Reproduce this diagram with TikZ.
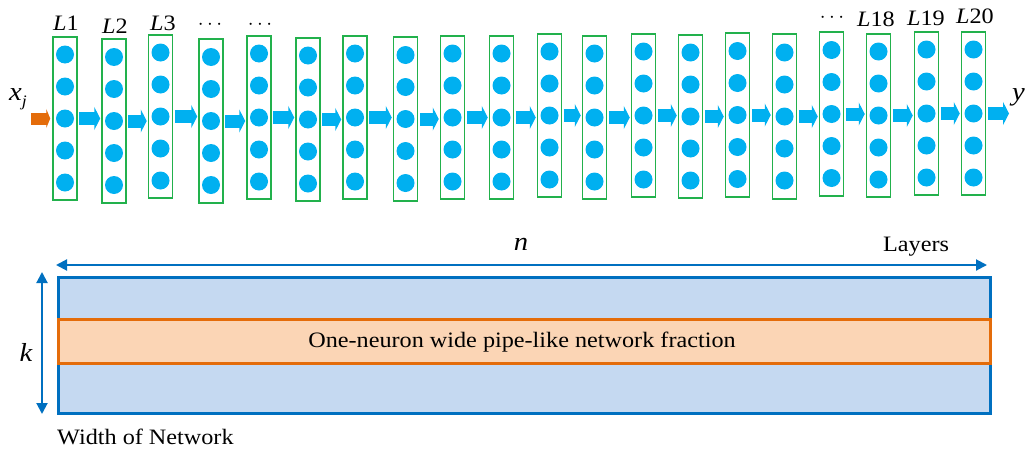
\documentclass[tikz,border=0pt]{standalone}
\usepackage{fontspec}
\setmainfont[FakeStretch=1.1]{Liberation Serif}
\usetikzlibrary{arrows.meta}
\definecolor{lgreen}{HTML}{22B14C}
\definecolor{lcyan}{HTML}{00B0F0}
\definecolor{dblue}{HTML}{0070C0}
\definecolor{lblue}{HTML}{C5D9F1}
\definecolor{orng}{HTML}{E46C0A}
\definecolor{lorng}{HTML}{FBD5B5}
\tikzset{
  layerbox/.style={draw=lgreen, line width=1.5pt, rectangle, minimum width=24pt, inner sep=0pt},
  neuron/.style={circle, fill=lcyan, minimum size=18pt, inner sep=0pt},
  flow/.style={draw=lcyan, line width=13pt, -{Triangle[length=6pt,width=23pt]}},
  inflow/.style={draw=orng, line width=12pt, -{Triangle[length=4pt,width=19pt]}},
  dimarrow/.style={draw=dblue, line width=2pt, {Triangle[length=11pt,width=11pt]}-{Triangle[length=11pt,width=11pt]}},
  lbl/.style={font=\fontsize{22}{22}\selectfont, inner sep=0pt, anchor=base},
  dotlbl/.style={font=\fontsize{20}{20}\selectfont, inner sep=0pt, anchor=base},
  ital/.style={font=\fontsize{26}{26}\selectfont\itshape, inner sep=0pt, anchor=base},
  txt/.style={font=\fontsize{22}{22}\selectfont, inner sep=0pt},
}
\begin{document}
\begin{tikzpicture}[x=1pt,y=-1pt]
\useasboundingbox (0,0) rectangle (1030,450);
% layers
\foreach \i/\cx/\t/\b in {1/65/37/200, 2/114/39/203, 3/160.5/35/198, 4/211/39/203, 5/259/36/199,
  6/308/38/201, 7/355/36/199, 8/405.5/37/201, 9/452.5/36/199, 10/501.5/36/199,
  11/549.5/34/197, 12/594.5/36/199, 13/643.5/34/197, 14/690.5/35/198, 15/737.5/33/197,
  16/784.5/34/199, 17/831.5/32/196, 18/878.5/34/197, 19/926.5/32/195, 20/973.5/32/195}{
  \pgfmathsetmacro{\cy}{(\t+\b)/2}
  \pgfmathsetmacro{\h}{\b-\t}
  \node[layerbox, minimum height=\h pt] (b\i) at (\cx,\cy) {};
  \foreach \k/\dy in {1/-64,2/-32,3/0,4/32,5/64}{
    \node[neuron] (d\i-\k) at (\cx,\cy+\dy) {};
  }
}
% flow arrows
\foreach \i [evaluate=\i as \j using int(\i+1)] in {1,...,19}{
  \draw[flow] ([xshift=1.5pt]b\i.east) -- ([xshift=-1pt]b\i.east -| b\j.west);
}
\coordinate (xin) at (31,118.5);
\draw[inflow] (xin) -- ([xshift=-2pt]b1.west |- xin);
\coordinate (yout) at (1009,113.5);
\draw[flow] ([xshift=1.5pt]b20.east) -- (yout);
% labels
\node[lbl] (l1) at (66,30) {\textit{L}1};
\node[lbl] (l2) at (115,33) {\textit{L}2};
\node[lbl] (l3) at (163,30) {\textit{L}3};
\node[dotlbl] (l4) at (210,29) {$\cdots$};
\node[dotlbl] (l5) at (260,29) {$\cdots$};
\node[dotlbl] (l17) at (832,22) {$\cdots$};
\node[lbl] (l18) at (876,26) {\textit{L}18};
\node[lbl] (l19) at (926,25) {\textit{L}19};
\node[lbl] (l20) at (975,23) {\textit{L}20};
\node[ital, anchor=base west] (xj) at (9,100) {x\raisebox{-6pt}{\fontsize{16}{16}\selectfont j}};
\node[ital, anchor=base west] (yl) at (1012,100) {y};
% bottom panel
\node[draw=dblue, fill=lblue, line width=3pt, rectangle, minimum width=932pt, minimum height=136pt, inner sep=0pt] (net) at (524,345) {};
\node[draw=orng, fill=lorng, line width=3pt, rectangle, minimum width=932pt, minimum height=44pt, inner sep=0pt] (pipe) at (524,341) {};
\node[txt] (pipetxt) at (522,342) {One-neuron wide pipe-like network fraction};
\coordinate (nl) at (56,265);
\coordinate (nr) at (987,265);
\draw[dimarrow] (nl) -- (nr);
\coordinate (kt) at (42,272);
\coordinate (kb) at (42,414);
\draw[dimarrow] (kt) -- (kb);
\node[ital] (nlab) at (521,250) {n};
\node[txt, anchor=base west] (layers) at (883,251) {Layers};
\node[ital] (klab) at (26,361) {k};
\node[txt, anchor=base west] (won) at (57,444) {Width of Network};
\end{tikzpicture}
\end{document}
